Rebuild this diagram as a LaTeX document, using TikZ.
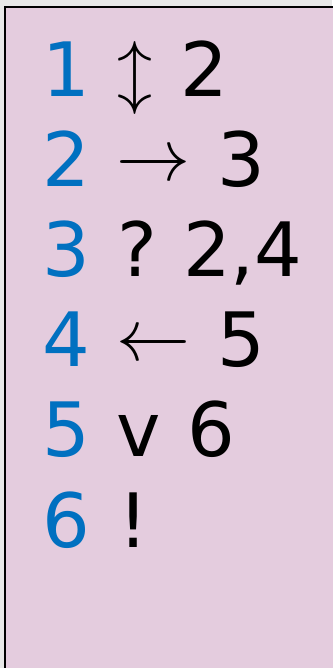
\documentclass[tikz,border=0pt]{standalone}
\usepackage{graphicx}
\usepackage{fontspec}
\setmainfont{DejaVu Sans}
\definecolor{bgpink}{HTML}{E4CCDE}
\definecolor{numblue}{HTML}{0070C0}
\definecolor{outgray}{HTML}{E8E8E8}
\tikzset{
  tok/.style={anchor=base west, inner sep=0pt, font=\fontsize{75}{90}\selectfont, text=black},
  num/.style={tok, text=numblue},
  arr/.style={anchor=center, inner sep=0pt, text=black},
}
\begin{document}
\begin{tikzpicture}[x=1pt,y=1pt]
\useasboundingbox (0,0) rectangle (332,-668);
\fill[outgray] (0,0) rectangle (332,-668);
\draw[fill=bgpink, line width=2.5pt] (5.2,-7.2) rectangle (345,-690);
% row 1
\node[num] (n1) at (42,-97) {1};
\node[arr] (a1) at (135,-78) {\scalebox{7}{$\updownarrow$}};
\node[tok] (t1) at (180,-97) {2};
% row 2
\node[num] (n2) at (42,-187) {2};
\node[arr] (a2) at (153.5,-167) {\scalebox{7.4}{$\rightarrow$}};
\node[tok] (t2) at (217,-187) {3};
% row 3
\node[num] (n3) at (42,-276) {3};
\node[tok] (q3) at (117,-276) {?};
\node[tok] (t3) at (183,-276) {2,4};
% row 4
\node[num] (n4) at (42,-366) {4};
\node[arr] (a4) at (153.5,-347) {\scalebox{7.4}{$\leftarrow$}};
\node[tok] (t4) at (217,-366) {5};
% row 5
\node[num] (n5) at (42,-456) {5};
\node[tok] (v5) at (116,-456) {v};
\node[tok] (t5) at (187,-456) {6};
% row 6
\node[num] (n6) at (42,-547) {6};
\node[tok] (e6) at (118,-547) {!};
\end{tikzpicture}
\end{document}
